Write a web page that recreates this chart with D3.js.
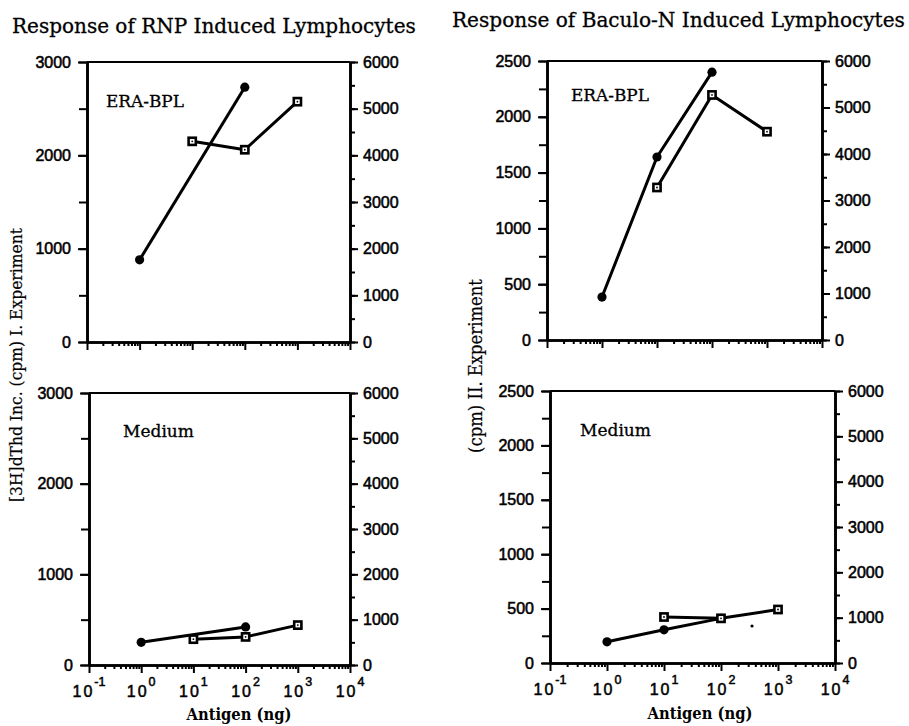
<!DOCTYPE html>
<html><head><meta charset="utf-8">
<script src="https://cdn.jsdelivr.net/npm/d3@7"></script>
<style>body{margin:0;background:#fff}</style>
</head><body>
<svg id="c" width="909" height="726"></svg>
<script>
// ---- text ----
const titles = ["Response of RNP Induced Lymphocytes", "Response of Baculo-N Induced Lymphocytes"];
const panelLabels = ["ERA-BPL", "ERA-BPL", "Medium", "Medium"];
const yLabels = ["[3H]dThd Inc. (cpm) I. Experiment", "(cpm) II. Experiment"];
const xLabel = "Antigen (ng)";
// ---- tick labels ----
const xExponents = [-1, 0, 1, 2, 3, 4];
const leftTicksRNP = [0, 1000, 2000, 3000];
const leftTicksBac = [0, 500, 1000, 1500, 2000, 2500];
const rightTicks = [0, 1000, 2000, 3000, 4000, 5000, 6000];
// ---- data (filled circles: left axis; open squares: right axis) ----
const rnpEraCircleDose = [1, 100];
const rnpEraCircle = [880, 2730];
const rnpEraSquareDose = [10, 100, 1000];
const rnpEraSquare = [4300, 4120, 5150];

const bacEraCircleDose = [1, 10, 100];
const bacEraCircle = [385, 1640, 2400];
const bacEraSquareDose = [10, 100, 1000];
const bacEraSquare = [3280, 5270, 4480];

const rnpMedCircleDose = [1, 100];
const rnpMedCircle = [250, 420];
const rnpMedSquareDose = [10, 100, 1000];
const rnpMedSquare = [570, 620, 880];

const bacMedCircleDose = [1, 10, 100];
const bacMedCircle = [195, 305, 410];
const bacMedSquareDose = [10, 100, 1000];
const bacMedSquare = [1015, 985, 1180];
const bacMedSpeckDose = [350];
const bacMedSpeck = [340];

const svg = d3.select("#c");
const SERIF = "'DejaVu Serif', serif";
const SERIF_C = "'DejaVu Serif Condensed', 'DejaVu Serif', serif";
const SANS = "'Liberation Sans', Arial, sans-serif";

function zip(a, b) { return a.map((v, i) => [v, b[i]]); }

function fitText(t, w) {
  const n = t.node();
  const fs = parseFloat(t.attr("font-size"));
  const cur = n.getComputedTextLength();
  t.attr("font-size", (fs * w / cur).toFixed(2));
}

const panels = [
  {x0: 87, x1: 350, y0: 62, y1: 342, leftMax: 3000, leftTicks: leftTicksRNP, leftMinorStep: 500,
   label: panelLabels[0], lx: 106, ly: 107,
   circles: zip(rnpEraCircleDose, rnpEraCircle), squares: zip(rnpEraSquareDose, rnpEraSquare), xaxis: false},
  {x0: 547, x1: 822, y0: 61, y1: 340, leftMax: 2500, leftTicks: leftTicksBac, leftMinorStep: 250,
   label: panelLabels[1], lx: 571, ly: 101,
   circles: zip(bacEraCircleDose, bacEraCircle), squares: zip(bacEraSquareDose, bacEraSquare), xaxis: false},
  {x0: 89, x1: 350, y0: 393, y1: 665, leftMax: 3000, leftTicks: leftTicksRNP, leftMinorStep: 500,
   label: panelLabels[2], lx: 123, ly: 437,
   circles: zip(rnpMedCircleDose, rnpMedCircle), squares: zip(rnpMedSquareDose, rnpMedSquare), xaxis: true,
   tickBase: 697, xlab: 239, xlabBase: 720},
  {x0: 550, x1: 835, y0: 391, y1: 663, leftMax: 2500, leftTicks: leftTicksBac, leftMinorStep: 250,
   label: panelLabels[3], lx: 580, ly: 436,
   circles: zip(bacMedCircleDose, bacMedCircle), squares: zip(bacMedSquareDose, bacMedSquare), xaxis: true,
   tickBase: 695, xlab: 700, xlabBase: 719, specks: zip(bacMedSpeckDose, bacMedSpeck)}
];

const minorX = [];
for (let e = -1; e < 4; e++) for (let m = 2; m <= 9; m++) minorX.push(m * Math.pow(10, e));

function styleAxis(g, w) {
  g.select(".domain").attr("stroke", "#000").attr("stroke-width", w);
  g.selectAll(".tick line").attr("stroke", "#000").attr("stroke-width", 2);
  g.attr("font-family", SANS).attr("font-size", 16);
  g.selectAll(".tick text").attr("fill", "#000").attr("stroke", "#000").attr("stroke-width", 0.55);
}

panels.forEach(p => {
  const g = svg.append("g");
  const x = d3.scaleLog().domain([0.1, 10000]).range([p.x0, p.x1]);
  const yL = d3.scaleLinear().domain([0, p.leftMax]).range([p.y1, p.y0]);
  const yR = d3.scaleLinear().domain([0, 6000]).range([p.y1, p.y0]);

  // top frame line
  g.append("line").attr("x1", p.x0).attr("x2", p.x1).attr("y1", p.y0).attr("y2", p.y0)
    .attr("stroke", "#000").attr("stroke-width", 2);

  // left axis
  const lMinor = d3.range(0, p.leftMax + 1, p.leftMinorStep);
  g.append("g").attr("transform", `translate(${p.x0},0)`)
    .call(d3.axisLeft(yL).tickValues(lMinor).tickSize(8).tickSizeOuter(0).tickFormat(""))
    .call(s => styleAxis(s, 2.6));
  g.append("g").attr("transform", `translate(${p.x0},0)`)
    .call(d3.axisLeft(yL).tickValues(p.leftTicks).tickSize(9).tickSizeOuter(0).tickPadding(7).tickFormat(d3.format("d")))
    .call(s => styleAxis(s, 2.6));

  // right axis
  const rMinor = d3.range(0, 6001, 500);
  g.append("g").attr("transform", `translate(${p.x1},0)`)
    .call(d3.axisRight(yR).tickValues(rMinor).tickSize(5).tickSizeOuter(0).tickFormat(""))
    .call(s => styleAxis(s, 2.6));
  g.append("g").attr("transform", `translate(${p.x1},0)`)
    .call(d3.axisRight(yR).tickValues(rightTicks).tickSize(8).tickSizeOuter(0).tickPadding(5).tickFormat(d3.format("d")))
    .call(s => styleAxis(s, 2.6));

  // bottom axis
  g.append("g").attr("transform", `translate(0,${p.y1})`)
    .call(d3.axisBottom(x).tickValues(minorX).tickSize(4).tickSizeOuter(0).tickFormat(""))
    .call(s => styleAxis(s, 2.6));
  g.append("g").attr("transform", `translate(0,${p.y1})`)
    .call(d3.axisBottom(x).tickValues(xExponents.map(e => Math.pow(10, e))).tickSize(8).tickSizeOuter(0).tickFormat(""))
    .call(s => styleAxis(s, 2.6));

  if (p.xaxis) {
    xExponents.forEach(e => {
      const t = g.append("text").attr("x", x(Math.pow(10, e))).attr("y", p.tickBase)
        .attr("text-anchor", "middle").attr("font-family", SANS).attr("font-size", 16)
        .attr("fill", "#000").attr("stroke", "#000").attr("stroke-width", 0.5);
      t.append("tspan").attr("letter-spacing", 2).text("10");
      t.append("tspan").attr("font-size", 12.5).attr("dy", -11).text(e === -1 ? "-1" : String(e));
    });
    const xl = g.append("text").attr("x", p.xlab).attr("y", p.xlabBase).attr("text-anchor", "middle")
      .attr("font-family", SERIF_C).attr("font-weight", "bold").attr("font-size", 15).text(xLabel);
    fitText(xl, 105);
  }

  // panel label
  const pl = g.append("text").attr("x", p.lx).attr("y", p.ly).attr("font-family", SERIF)
    .attr("font-size", 16).attr("stroke", "#000").attr("stroke-width", 0.3).text(p.label);
  fitText(pl, p.label === "Medium" ? 71 : 78);

  const line = d3.line();
  g.append("path").attr("d", line(p.circles.map(d => [x(d[0]), yL(d[1])])))
    .attr("fill", "none").attr("stroke", "#000").attr("stroke-width", 3).attr("stroke-linejoin", "round");
  g.append("path").attr("d", line(p.squares.map(d => [x(d[0]), yR(d[1])])))
    .attr("fill", "none").attr("stroke", "#000").attr("stroke-width", 3).attr("stroke-linejoin", "round");

  g.selectAll("circle.pt").data(p.circles).join("circle").attr("class", "pt")
    .attr("cx", d => x(d[0])).attr("cy", d => yL(d[1])).attr("r", 4.6).attr("fill", "#000");
  const sq = g.selectAll("g.sq").data(p.squares).join("g").attr("class", "sq")
    .attr("transform", d => `translate(${x(d[0])},${yR(d[1])})`);
  sq.append("rect").attr("x", -3.6).attr("y", -3.6).attr("width", 7.2).attr("height", 7.2)
    .attr("fill", "#fff").attr("stroke", "#000").attr("stroke-width", 2.6);
  sq.append("circle").attr("r", 0.9).attr("fill", "#000");

  if (p.specks) {
    g.selectAll("circle.sp").data(p.specks).join("circle").attr("class", "sp")
      .attr("cx", d => x(d[0])).attr("cy", d => yL(d[1])).attr("r", 1.6).attr("fill", "#000");
  }
});

// titles
const t1 = svg.append("text").attr("x", 12).attr("y", 33).attr("font-family", SERIF).attr("font-size", 19)
  .attr("stroke", "#000").attr("stroke-width", 0.3).text(titles[0]);
fitText(t1, 404);
const t2 = svg.append("text").attr("x", 452).attr("y", 27).attr("font-family", SERIF).attr("font-size", 19)
  .attr("stroke", "#000").attr("stroke-width", 0.3).text(titles[1]);
fitText(t2, 453);

// y labels
const y1 = svg.append("text").attr("transform", "translate(22,365) rotate(-90)").attr("text-anchor", "middle")
  .attr("font-family", SERIF_C).attr("font-size", 15).attr("stroke", "#000").attr("stroke-width", 0.2).text(yLabels[0]);
fitText(y1, 274);
const y2 = svg.append("text").attr("transform", "translate(482,366) rotate(-90)").attr("text-anchor", "middle")
  .attr("font-family", SERIF_C).attr("font-size", 15).attr("stroke", "#000").attr("stroke-width", 0.2).text(yLabels[1]);
fitText(y2, 174);
</script>
</body></html>
